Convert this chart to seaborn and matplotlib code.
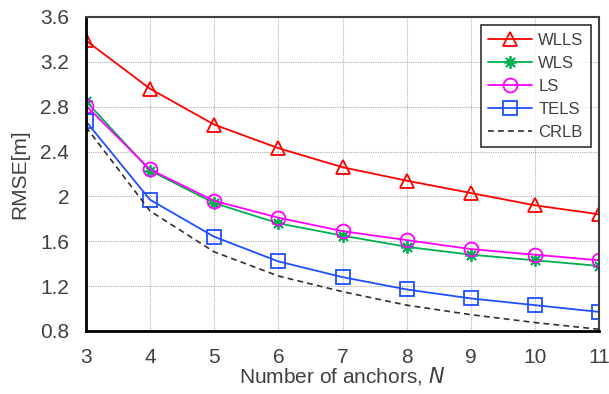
import numpy as np
import matplotlib
matplotlib.use("Agg")
import matplotlib.pyplot as plt
from matplotlib.ticker import FuncFormatter
import seaborn as sns

# data
anchors = [3, 4, 5, 6, 7, 8, 9, 10, 11]
wlls = [3.39, 2.96, 2.64, 2.43, 2.26, 2.14, 2.03, 1.92, 1.84]
wls = [2.85, 2.23, 1.94, 1.76, 1.65, 1.55, 1.48, 1.43, 1.38]
ls = [2.81, 2.24, 1.96, 1.81, 1.69, 1.61, 1.53, 1.48, 1.43]
tels = [2.67, 1.97, 1.64, 1.42, 1.28, 1.17, 1.09, 1.03, 0.97]
crlb = [2.62, 1.87, 1.505, 1.29, 1.15, 1.03, 0.945, 0.875, 0.815]

sns.set_style("white")
plt.rcParams["font.family"] = ["Liberation Sans", "DejaVu Sans"]
text_col = "#404040"

fig = plt.figure(figsize=(6.09, 3.94), dpi=100)
ax = fig.add_axes([0.141, 0.160, 0.843, 0.797])

series = [
    ("WLLS", wlls, "#ff0000", "^", 10),
    ("WLS", wls, "#00b050", (8, 2, 0), 9),
    ("LS", ls, "#ff00ff", "o", 10),
    ("TELS", tels, "#1f4fff", "s", 10),
]
for name, vals, col, mk, ms in series:
    sns.lineplot(x=anchors, y=vals, ax=ax, color=col, marker=mk,
                 linewidth=1.3, markersize=ms, markerfacecolor="none",
                 markeredgecolor=col, markeredgewidth=1.3, label=name)
sns.lineplot(x=anchors, y=crlb, ax=ax, color="#303030", linestyle=(0, (3.5, 2.5)),
             linewidth=1.2, label="CRLB")

ax.set_xlim(3, 11)
ax.set_ylim(0.8, 3.6)
ax.set_xticks(anchors)
ax.set_yticks(np.arange(0.8, 3.61, 0.4))
ax.yaxis.set_major_formatter(FuncFormatter(lambda v, p: f"{v:.1f}".rstrip("0").rstrip(".")))
ax.grid(True, color="#b0b0b0", linestyle=(0, (1, 1)), linewidth=0.8)
ax.tick_params(direction="in", length=4, width=1.2, colors="black",
               labelcolor=text_col, labelsize=15, pad=12)
for s in ["left", "bottom"]:
    ax.spines[s].set_linewidth(2.0)
    ax.spines[s].set_color("black")
for s in ["top", "right"]:
    ax.spines[s].set_linewidth(1.5)
    ax.spines[s].set_color("#404040")

ax.set_xlabel("Number of anchors, $\\it{N}$", fontsize=15, color=text_col, labelpad=-1)
ax.set_ylabel("RMSE[m]", fontsize=15, color=text_col, labelpad=8)

leg = ax.legend(loc="upper right", fontsize=12, handlelength=2.6, frameon=True,
                fancybox=False, edgecolor="black", borderaxespad=0.5,
                labelspacing=0.48, borderpad=0.45, handletextpad=0.4)
leg.get_frame().set_linewidth(1.2)
for t in leg.get_texts():
    t.set_color(text_col)

fig.savefig("out.png", dpi=100)
